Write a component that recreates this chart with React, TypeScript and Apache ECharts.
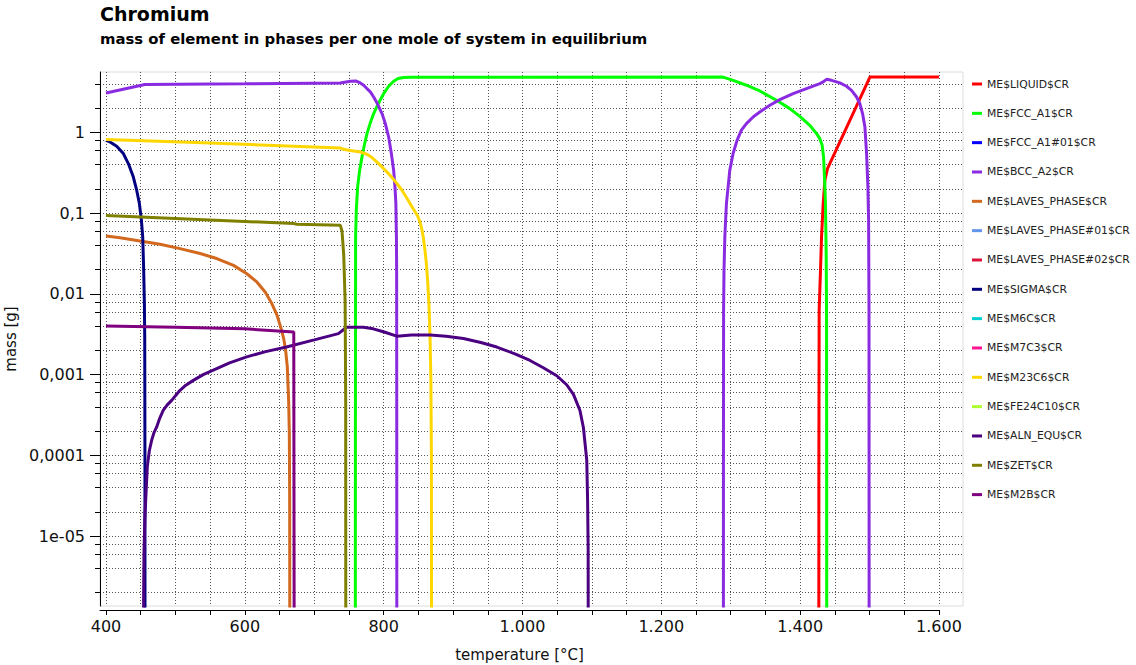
import React, { useEffect, useRef } from "react";
import * as echarts from "echarts";

// Temperature axis (°C)
const T_MIN = 391.36;
const T_MAX = 1634.6;
const T_AXIS_END = 1600;
const tempTicks = [
  400, 450, 500, 550, 600, 650, 700, 750, 800, 850, 900, 950, 1000, 1050, 1100,
  1150, 1200, 1250, 1300, 1350, 1400, 1450, 1500, 1550, 1600,
];
const tempLabels = [400, 600, 800, 1000, 1200, 1400, 1600];

// Mass axis (g), logarithmic
const MASS_MIN = 1.36e-6;
const MASS_MAX = 5.63;
const massMajor = [1e-5, 1e-4, 1e-3, 1e-2, 1e-1, 1];
const massGrid = [
  2e-6, 4e-6, 6e-6, 8e-6, 1e-5, 2e-5, 4e-5, 6e-5, 8e-5, 1e-4, 2e-4, 4e-4, 6e-4,
  8e-4, 1e-3, 2e-3, 4e-3, 6e-3, 8e-3, 1e-2, 2e-2, 4e-2, 6e-2, 8e-2, 1e-1, 0.2,
  0.4, 0.6, 0.8, 1, 2, 4,
];

// [temperature °C, mass g] per phase
const liquid = [
  [1426.8, 1e-9], [1427.0, 1e-4], [1427.4, 0.0063], [1429.3, 0.0197],
  [1430.8, 0.051], [1433.2, 0.132], [1435.6, 0.256], [1439.4, 0.358],
  [1500.5, 4.87], [1600, 4.87],
];
const fccA1 = [
  [759.1, 1e-9], [759.3, 1e-4], [759.6, 0.051], [760.6, 0.109], [762.5, 0.212],
  [765.4, 0.34], [768.8, 0.5], [772.1, 0.696], [776, 0.97], [780.8, 1.32],
  [785.6, 1.72], [792.8, 2.33], [800, 3.04], [807.2, 3.75], [814.4, 4.32],
  [820.7, 4.67], [828.8, 4.82], [840, 4.86], [1289, 4.87], [1303.4, 4.44],
  [1322.6, 3.86], [1341.8, 3.28], [1365.9, 2.51], [1385.1, 1.98], [1399.5, 1.59],
  [1413.9, 1.23], [1423.6, 0.97], [1428.4, 0.84], [1431.7, 0.696],
  [1433.7, 0.5], [1435.1, 0.281], [1436.5, 0.132], [1437.5, 0.0317],
  [1438, 0.0063], [1438.2, 1e-4], [1438.3, 1e-9],
];
const bccA2 = [
  [400, 3.1], [456, 3.94], [600, 4.03], [737.5, 4.12], [752, 4.32],
  [760.6, 4.34], [766.3, 4.12], [771.2, 3.86], [775.9, 3.51], [780.8, 3.19],
  [785.6, 2.76], [790.4, 2.33], [797.6, 1.72], [802.4, 1.29], [807.2, 0.88],
  [811.1, 0.55], [814.4, 0.34], [816.3, 0.212], [817.6, 0.132], [818.4, 0.051],
  [818.7, 0.0197], [818.9, 1e-4], [819, 1e-9],
  [1000, null],
  [1289.4, 1e-9], [1289.5, 1e-4], [1289.7, 0.0063], [1290.3, 0.0197],
  [1291.5, 0.051], [1293.8, 0.132], [1296.2, 0.212], [1298.6, 0.34],
  [1303.4, 0.55], [1309.1, 0.8], [1315.4, 1.07], [1322.6, 1.29], [1332.2, 1.56],
  [1341.8, 1.8], [1356.3, 2.18], [1370.7, 2.56], [1389.9, 3.04], [1409.1, 3.51],
  [1428.4, 4.05], [1433.2, 4.24], [1438, 4.57], [1445.2, 4.44], [1457.2, 4.12],
  [1466.8, 3.75], [1474, 3.34], [1481.3, 2.76], [1486, 2.29], [1489.9, 1.72],
  [1493.3, 1.17], [1495.7, 0.55], [1497.6, 0.212], [1498.6, 0.082],
  [1499.2, 0.0063], [1499.3, 1e-4], [1499.4, 1e-9],
];
const lavesPhase = [
  [400, 0.0522], [420.2, 0.0496], [449, 0.0454], [477.9, 0.0413], [506.7, 0.0365],
  [535.6, 0.0317], [559.6, 0.0275], [583.7, 0.0226], [602.9, 0.0178],
  [617.3, 0.0141], [629.3, 0.0106], [638.9, 0.0076], [646.2, 0.0055],
  [652, 0.0038], [656, 0.0028], [658.8, 0.002], [661.2, 0.00125],
  [663.1, 4.8e-4], [664.1, 1.9e-4], [664.6, 2.8e-5], [665, 1e-9],
];
const sigma = [
  [400, 0.803], [405.8, 0.765], [415.4, 0.677], [425, 0.549], [432.2, 0.413],
  [439.4, 0.281], [444.2, 0.193], [448.1, 0.132], [451, 0.082], [452.9, 0.051],
  [454.3, 0.0197], [455.3, 0.0076], [455.8, 0.0029], [456.1, 1e-4], [456.3, 1e-9],
];
const m23c6 = [
  [400, 0.82], [550, 0.74], [737.5, 0.645], [742, 0.62], [749.5, 0.604],
  [766.3, 0.575], [775.9, 0.539], [783.2, 0.49], [790.4, 0.43], [797.6, 0.375],
  [804.8, 0.325], [812, 0.277], [819.2, 0.233], [826.4, 0.193], [833.7, 0.152],
  [840.9, 0.12], [845, 0.105], [848.5, 0.094], [851.5, 0.082], [854.2, 0.068],
  [856.7, 0.053], [859, 0.038], [861.3, 0.025], [863.4, 0.0145], [865.3, 0.0072],
  [866.8, 0.003], [868, 9e-4], [868.8, 1e-4], [869.2, 1e-9],
];
const alnEqu = [
  [453.8, 1e-9], [454.2, 1.6e-6], [454.7, 6e-6], [456, 1.7e-5], [457.2, 2.8e-5],
  [459.5, 7.2e-5], [462.5, 1.15e-4], [465.8, 1.54e-4], [469, 1.9e-4],
  [473, 2.25e-4], [477.5, 2.9e-4], [482.6, 3.63e-4], [488, 4.2e-4],
  [494.6, 4.8e-4], [506.6, 6.4e-4], [515, 7.4e-4], [525.8, 8.5e-4],
  [540, 1.0e-3], [554.6, 1.14e-3], [578, 1.4e-3], [602.7, 1.66e-3],
  [630, 1.93e-3], [660, 2.2e-3], [700, 2.7e-3], [734.8, 3.23e-3], [742, 3.6e-3],
  [746.8, 3.86e-3], [770.8, 3.86e-3], [785, 3.7e-3], [799.6, 3.4e-3],
  [818.9, 3.0e-3], [840, 3.1e-3], [866.9, 3.1e-3], [890, 3.0e-3],
  [914.9, 2.8e-3], [940, 2.5e-3], [963, 2.2e-3], [990, 1.8e-3], [1010.8, 1.5e-3],
  [1030, 1.22e-3], [1049.4, 9.7e-4], [1063.6, 7.5e-4], [1073.4, 5.7e-4],
  [1082.8, 3.6e-4], [1087.8, 2.2e-4], [1091.1, 1.16e-4], [1092.6, 8.7e-5],
  [1093.8, 2.8e-5], [1094.6, 6.7e-6], [1095, 1e-9],
];
const zet = [
  [400, 0.094], [670, 0.0745], [675, 0.073], [737.5, 0.0712], [740, 0.06],
  [742.5, 0.03], [744.5, 0.008], [745.3, 5e-4], [745.5, 1e-9],
];
const m2b = [
  [400, 0.004], [500, 0.00388], [600, 0.0037], [670.5, 0.00339], [671.5, 1e-9],
];

const phaseNames = [
  "ME$LIQUID$CR", "ME$FCC_A1$CR", "ME$FCC_A1#01$CR", "ME$BCC_A2$CR",
  "ME$LAVES_PHASE$CR", "ME$LAVES_PHASE#01$CR", "ME$LAVES_PHASE#02$CR",
  "ME$SIGMA$CR", "ME$M6C$CR", "ME$M7C3$CR", "ME$M23C6$CR", "ME$FE24C10$CR",
  "ME$ALN_EQU$CR", "ME$ZET$CR", "ME$M2B$CR",
];
const phaseColors = [
  "#ff0000", "#00ff00", "#0000ff", "#8a2be2", "#d2691e", "#6495ed", "#dc143c",
  "#000080", "#00ced1", "#ff1493", "#ffd700", "#adff2f", "#4b0082", "#808000",
  "#800080",
];
const phaseData = [
  liquid, fccA1, [], bccA2, lavesPhase, [], [], sigma, [], [], m23c6, [],
  alnEqu, zet, m2b,
];

const FONT = "DejaVu Sans, Verdana, sans-serif";

const formatMass = (v: number) => {
  const e = Math.round(Math.log10(v));
  if (e >= 0) return String(Math.round(v));
  if (e >= -4) return "0," + "0".repeat(-e - 1) + "1";
  return "1e-" + String(-e).padStart(2, "0");
};

const formatTemp = (v: number) => {
  const r = Math.round(v);
  if (r < 1000) return String(r);
  return Math.floor(r / 1000) + "." + String(r % 1000).padStart(3, "0");
};

const gridLine = { show: true, lineStyle: { color: "#555", width: 1, type: [1, 2] } };

export default function App() {
  const ref = useRef<HTMLDivElement>(null);

  useEffect(() => {
    document.body.style.margin = "0";
    const chart = echarts.init(ref.current!, null, { renderer: "svg" });
    chart.setOption({
      animation: false,
      backgroundColor: "#ffffff",
      title: [
        {
          text: "Chromium",
          left: 100,
          top: 4,
          padding: 0,
          textStyle: { fontFamily: FONT, fontSize: 19, fontWeight: "bold", color: "#000" },
        },
        {
          text: "mass of element in phases per one mole of system in equilibrium",
          left: 100,
          top: 31,
          padding: 0,
          textStyle: { fontFamily: FONT, fontSize: 14.85, fontWeight: "bold", color: "#000" },
        },
      ],
      legend: {
        orient: "vertical",
        left: 972,
        top: 77,
        padding: 0,
        icon: "rect",
        itemWidth: 10,
        itemHeight: 3,
        itemGap: 15.33,
        selectedMode: false,
        data: phaseNames,
        textStyle: { fontFamily: FONT, fontSize: 10.8, lineHeight: 14, color: "#222" },
      },
      grid: [
        {
          left: 100,
          top: 72,
          width: 863,
          height: 534,
          show: true,
          borderColor: "#dcdcdc",
          borderWidth: 1,
          outerBoundsMode: "none",
        },
        { left: 100, top: 72, width: 839, height: 538, outerBoundsMode: "none" },
      ],
      xAxis: [
        {
          gridIndex: 0,
          type: "value",
          min: T_MIN,
          max: T_MAX,
          axisLine: { show: false },
          axisTick: { show: false, customValues: tempTicks },
          axisLabel: { show: false },
          splitLine: gridLine,
        },
        {
          gridIndex: 1,
          type: "value",
          min: T_MIN,
          max: T_AXIS_END,
          axisLine: { show: true, lineStyle: { color: "#000", width: 1 } },
          axisTick: { show: true, customValues: tempTicks, length: 5, lineStyle: { color: "#000" } },
          axisLabel: {
            customValues: tempLabels,
            formatter: formatTemp,
            fontFamily: FONT,
            fontSize: 16,
            color: "#111",
            margin: 8,
          },
          splitLine: { show: false },
          name: "temperature [°C]",
          nameLocation: "middle",
          nameGap: 37,
          nameTextStyle: { fontFamily: FONT, fontSize: 15, color: "#111" },
        },
      ],
      yAxis: [
        {
          gridIndex: 0,
          type: "log",
          logBase: 10,
          min: MASS_MIN,
          max: MASS_MAX,
          position: "left",
          axisLine: { show: true, lineStyle: { color: "#000", width: 1 } },
          axisTick: { show: true, customValues: massMajor, length: 10, lineStyle: { color: "#000" } },
          axisLabel: {
            customValues: massMajor,
            formatter: formatMass,
            fontFamily: FONT,
            fontSize: 16,
            color: "#111",
            margin: 15,
          },
          splitLine: { show: false },
          name: "mass [g]",
          nameLocation: "middle",
          nameGap: 76,
          nameTextStyle: { fontFamily: FONT, fontSize: 15, color: "#111" },
        },
        {
          gridIndex: 0,
          type: "log",
          logBase: 10,
          min: MASS_MIN,
          max: MASS_MAX,
          position: "left",
          axisLine: { show: false },
          axisTick: { show: true, customValues: massGrid, length: 5, lineStyle: { color: "#000" } },
          axisLabel: { show: false },
          splitLine: gridLine,
        },
        { gridIndex: 1, type: "value", min: 0, max: 1, show: false },
      ],
      series: phaseNames.map((name, i) => ({
        name,
        type: "line",
        xAxisIndex: 0,
        yAxisIndex: 0,
        data: phaseData[i],
        color: phaseColors[i],
        showSymbol: false,
        symbol: "none",
        clip: true,
        connectNulls: false,
        lineStyle: { width: 3, color: phaseColors[i] },
        emphasis: { disabled: true },
      })),
    });
    return () => chart.dispose();
  }, []);

  return <div ref={ref} style={{ width: 1136, height: 665 }} />;
}
